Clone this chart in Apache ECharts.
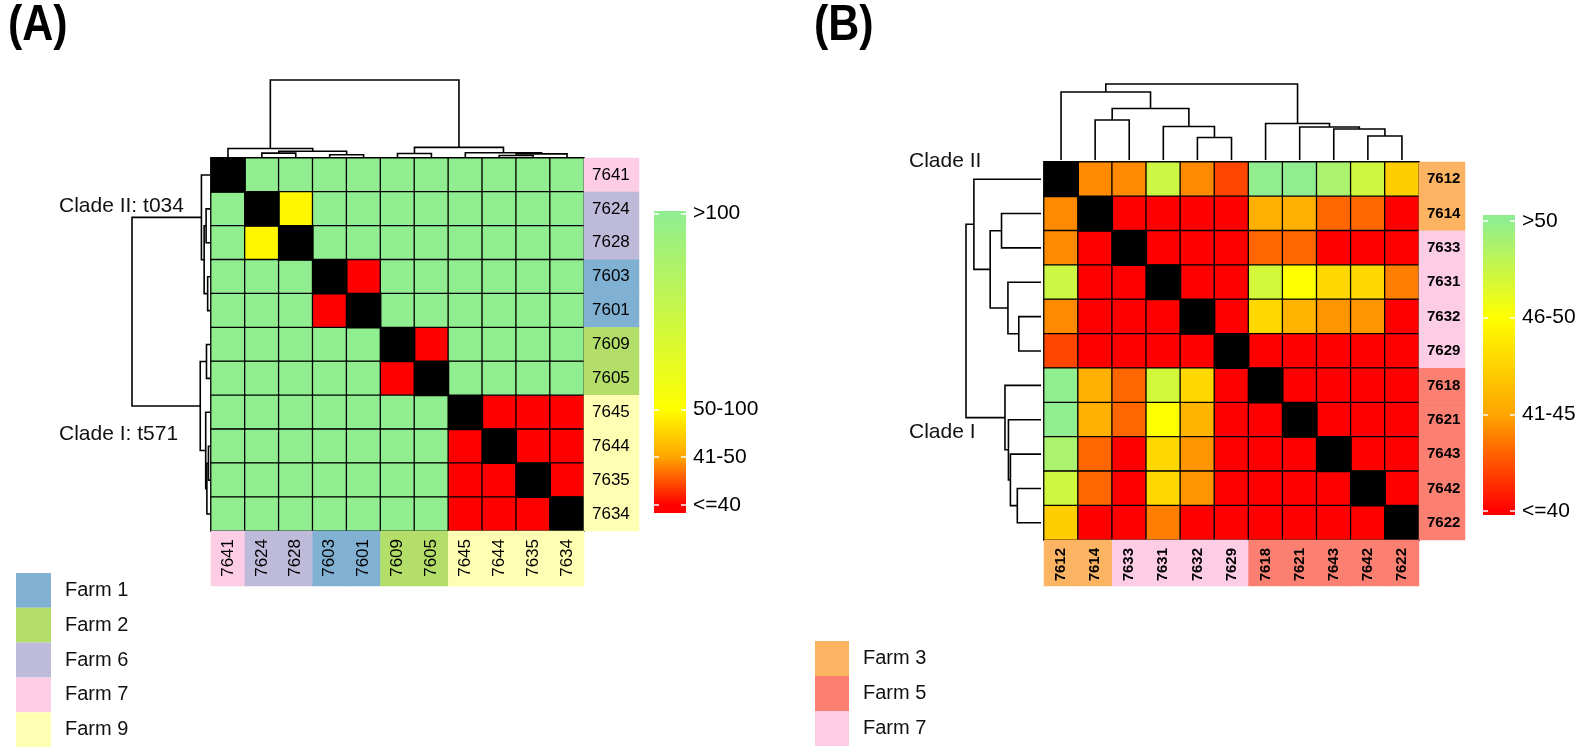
<!DOCTYPE html>
<html><head><meta charset="utf-8">
<script src="https://cdn.jsdelivr.net/npm/echarts@6/dist/echarts.min.js"></script>
<style>html,body{margin:0;padding:0;background:#fff}#c{width:1595px;height:750px}</style>
</head><body><div id="c"></div>
<script>
// ================= DATA =================
// Panel A (order as displayed, rows top->bottom == columns left->right)
const idsA = ['7641','7624','7628','7603','7601','7609','7605','7645','7644','7635','7634'];
const farmsA = ['Farm 7','Farm 6','Farm 6','Farm 1','Farm 1','Farm 2','Farm 2','Farm 9','Farm 9','Farm 9','Farm 9'];
const matA = [
  [  0,120,120,120,120,120,120,120,120,120,120],
  [120,  0, 59,120,120,120,120,120,120,120,120],
  [120, 59,  0,120,120,120,120,120,120,120,120],
  [120,120,120,  0, 35,120,120,120,120,120,120],
  [120,120,120, 35,  0,120,120,120,120,120,120],
  [120,120,120,120,120,  0, 35,120,120,120,120],
  [120,120,120,120,120, 35,  0,120,120,120,120],
  [120,120,120,120,120,120,120,  0, 35, 35, 35],
  [120,120,120,120,120,120,120, 35,  0, 35, 35],
  [120,120,120,120,120,120,120, 35, 35,  0, 35],
  [120,120,120,120,120,120,120, 35, 35, 35,  0]
];
// hclust-style merges: negative = leaf (display position), positive = earlier merge (1-based), height
const linkA = [
  [-2,-3,0.5],[-4,-5,0.3],[1,2,0.75],[-1,3,1.1],[-6,-7,0.45],
  [-9,-10,0.2],[6,-11,0.4],[-8,7,0.55],[5,8,1.25],[4,9,10]
];
const dendroMaxA = 10;
const legendTicksA = [40, 50, 60, 101];
const legendLabelsA = ['<=40', '41-50', '50-100', '>100'];
const legendRangeA = [38.3, 101.5];
const farmLegendA = ['Farm 1','Farm 2','Farm 6','Farm 7','Farm 9'];

// Panel B
const idsB = ['7612','7614','7633','7631','7632','7629','7618','7621','7643','7642','7622'];
const farmsB = ['Farm 3','Farm 3','Farm 7','Farm 7','Farm 7','Farm 7','Farm 5','Farm 5','Farm 5','Farm 5','Farm 5'];
const matB = [
  [   0,44.2,44.2,52.3,44.2,42.1,55.2,55.2,53.8,52.2,47.2],
  [44.2,   0,  38,  38,  38,  38,45.6,45.6,43.1,43.1,  38],
  [44.2,  38,   0,  38,  38,  38,43.1,43.1,  38,  38,  38],
  [52.3,  38,  38,   0,  38,  38,  52,  50,47.8,47.8,43.8],
  [44.2,  38,  38,  38,   0,  38,47.8,45.8,44.5,44.5,  38],
  [42.1,  38,  38,  38,  38,   0,  38,  38,  38,  38,  38],
  [55.2,45.6,43.1,  52,47.8,  38,   0,  38,  38,  38,  38],
  [55.2,45.6,43.1,  50,45.8,  38,  38,   0,  38,  38,  38],
  [53.8,43.1,  38,47.8,44.5,  38,  38,  38,   0,  38,  38],
  [52.2,43.1,  38,47.8,44.5,  38,  38,  38,  38,   0,  38],
  [47.2,  38,  38,43.8,  38,  38,  38,  38,  38,  38,   0]
];
const linkB = [
  [-2,-3,40],[-5,-6,22.5],[-4,2,33.5],[1,3,51.5],[-1,4,68],
  [-10,-11,24],[-9,6,31],[-8,7,33],[-7,8,36.5],[5,9,76]
];
const dendroMaxB = 76;
const legendTicksB = [40, 45, 50, 55];
const legendLabelsB = ['<=40', '41-45', '46-50', '>50'];
const legendRangeB = [39.8, 55.3];
const farmLegendB = ['Farm 3','Farm 5','Farm 7'];

// ================= STYLE =================
const FONT = "'Liberation Sans', Arial, Helvetica, sans-serif";
const farmColors = {'Farm 1':'#80B1D3','Farm 2':'#B3DE69','Farm 3':'#FDB462','Farm 5':'#FB8072',
                    'Farm 6':'#BEBADA','Farm 7':'#FCCDE5','Farm 9':'#FFFFB3'};
const paletteColors = ['#FF0000','#FFA500','#FFFF00','#90EE90']; // placed at legend ticks

function hex2rgb(h){h=h.replace('#','');return [parseInt(h.substr(0,2),16),parseInt(h.substr(2,2),16),parseInt(h.substr(4,2),16)];}
function makeColorAt(ticks){
  return function(v){
    if (v <= ticks[0]) return paletteColors[0];
    for (let k=1;k<ticks.length;k++){
      if (v <= ticks[k]){
        const t=(v-ticks[k-1])/(ticks[k]-ticks[k-1]);
        const a=hex2rgb(paletteColors[k-1]), b=hex2rgb(paletteColors[k]);
        return 'rgb('+a.map((x,i)=>Math.round(x+(b[i]-x)*t)).join(',')+')';
      }
    }
    return paletteColors[paletteColors.length-1];
  };
}
function dendroSegments(link){
  const pos=[], hgt=[], segs=[];
  const get = k => k<0 ? [(-k)-1, 0] : [pos[k-1], hgt[k-1]];
  link.forEach(([a,b,h])=>{
    const [xa,ha]=get(a), [xb,hb]=get(b);
    segs.push([xa,ha,xb,hb,h]); pos.push((xa+xb)/2); hgt.push(h);
  });
  return segs;
}

const grids=[], xAxes=[], yAxes=[], series=[], visualMaps=[];
function addGrid(l,t,w,h){grids.push({left:l,top:t,width:w,height:h,containLabel:false,outerBoundsMode:'none'});return grids.length-1;}
function addX(o){xAxes.push(o);return xAxes.length-1;}
function addY(o){yAxes.push(o);return yAxes.length-1;}
const hidden = {show:false};

function buildPanel(P){
  const n = P.ids.length;
  const colorAt = makeColorAt(P.ticks);
  // main heatmap
  const g = addGrid(...P.heat);
  const hx = addX({gridIndex:g,type:'category',data:P.ids,position:'bottom',z:10,
    axisLine:hidden,axisTick:hidden,splitLine:hidden,
    axisLabel:{interval:0,rotate:90,margin:P.labMargin,fontSize:P.labSize,color:'#000',fontFamily:FONT,fontWeight:P.labWeight}});
  const hy = addY({gridIndex:g,type:'category',data:P.ids,inverse:true,position:'right',z:10,
    axisLine:hidden,axisTick:hidden,splitLine:hidden,
    axisLabel:{interval:0,margin:P.labMargin,fontSize:P.labSize,color:'#000',fontFamily:FONT,fontWeight:P.labWeight}});
  const off=[], diag=[];
  P.mat.forEach((row,i)=>row.forEach((v,j)=>{(i===j?diag:off).push([j,i,v]);}));
  series.push({type:'heatmap',xAxisIndex:hx,yAxisIndex:hy,data:off,
    itemStyle:{borderColor:'#000',borderWidth:1.3},emphasis:{disabled:true},silent:true});
  const mainIdx = series.length-1;
  series.push({type:'heatmap',xAxisIndex:hx,yAxisIndex:hy,data:diag,
    itemStyle:{color:'#000',borderColor:'#000',borderWidth:1.3},emphasis:{disabled:true},silent:true});
  const N=240, samples=[];
  for(let k=0;k<=N;k++) samples.push(colorAt(P.vm[0]+(P.vm[1]-P.vm[0])*k/N));
  visualMaps.push({type:'continuous',show:false,seriesIndex:mainIdx,min:P.vm[0],max:P.vm[1],inRange:{color:samples}});

  // annotation strips
  const gr = addGrid(...P.rowStrip);
  const rx = addX({gridIndex:gr,type:'category',data:['s'],show:false});
  const ry = addY({gridIndex:gr,type:'category',data:P.ids,inverse:true,show:false});
  const gc = addGrid(...P.colStrip);
  const cx = addX({gridIndex:gc,type:'category',data:P.ids,show:false});
  const cy = addY({gridIndex:gc,type:'category',data:['s'],show:false});
  [...new Set(P.farms)].forEach(f=>{
    const idx = P.ids.map((_,i)=>i).filter(i=>P.farms[i]===f);
    series.push({type:'heatmap',name:f,xAxisIndex:rx,yAxisIndex:ry,data:idx.map(i=>[0,i,1]),
      itemStyle:{color:farmColors[f],borderWidth:0},emphasis:{disabled:true},silent:true});
    series.push({type:'heatmap',name:f,xAxisIndex:cx,yAxisIndex:cy,data:idx.map(i=>[i,0,1]),
      itemStyle:{color:farmColors[f],borderWidth:0},emphasis:{disabled:true},silent:true});
  });

  // dendrograms
  const segs = dendroSegments(P.link);
  const render = top => (params, api) => {
    const xa=api.value(0), ha=api.value(1), xb=api.value(2), hb=api.value(3), h=api.value(4);
    const C = top ? (p,hh)=>api.coord([p,hh]) : (p,hh)=>api.coord([hh,p]);
    return {type:'polyline',shape:{points:[C(xa,ha),C(xa,h),C(xb,h),C(xb,hb)]},
            style:{stroke:'#000',lineWidth:1.6,fill:'none'}};
  };
  const gt = addGrid(...P.topDendro);
  const tx = addX({gridIndex:gt,type:'value',min:-0.5,max:n-0.5,show:false});
  const ty = addY({gridIndex:gt,type:'value',min:0,max:P.dmax,show:false});
  series.push({type:'custom',xAxisIndex:tx,yAxisIndex:ty,data:segs,renderItem:render(true),silent:true});
  const gl = addGrid(...P.leftDendro);
  const lx = addX({gridIndex:gl,type:'value',min:0,max:P.dmax,inverse:true,show:false});
  const ly = addY({gridIndex:gl,type:'value',min:-0.5,max:n-0.5,inverse:true,show:false});
  series.push({type:'custom',xAxisIndex:lx,yAxisIndex:ly,data:segs,renderItem:render(false),silent:true});

  // colour key
  const gk = addGrid(...P.key);
  const kx = addX({gridIndex:gk,type:'value',min:0,max:1,show:false});
  const tickStyle = {show:true,inside:true,length:5,customValues:P.ticks,lineStyle:{color:'#fff',width:1.5}};
  const ky = addY({gridIndex:gk,type:'value',position:'left',min:P.range[0],max:P.range[1],z:10,
    axisLine:hidden,splitLine:hidden,axisLabel:{show:false},axisTick:tickStyle});
  addY({gridIndex:gk,type:'value',position:'right',min:P.range[0],max:P.range[1],z:10,
    axisLine:hidden,splitLine:hidden,axisTick:tickStyle,
    axisLabel:{show:true,customValues:P.ticks,margin:7,fontSize:21,color:'#000',fontFamily:FONT,
      formatter:v=>P.tickLabels[P.ticks.indexOf(v)]}});
  const lo=P.range[0], hi=P.range[1];
  const stops=[{offset:0,color:colorAt(hi)}];
  P.ticks.slice().reverse().forEach(t=>{ if(t>lo && t<hi) stops.push({offset:(hi-t)/(hi-lo),color:colorAt(t)}); });
  stops.push({offset:1,color:colorAt(lo)});
  series.push({type:'custom',xAxisIndex:kx,yAxisIndex:ky,data:[[lo,hi]],silent:true,
    renderItem:(params,api)=>{
      const a=api.coord([0,api.value(1)]), b=api.coord([1,api.value(0)]);
      return {type:'rect',shape:{x:a[0],y:a[1],width:b[0]-a[0],height:b[1]-a[1]},
              style:{fill:new echarts.graphic.LinearGradient(0,0,0,1,stops)}};
    }});
}

buildPanel({ids:idsA,farms:farmsA,mat:matA,link:linkA,dmax:dendroMaxA,ticks:legendTicksA,
  tickLabels:legendLabelsA,range:legendRangeA,vm:[0,130],labSize:17,labMargin:8,labWeight:'normal',
  heat:[211,158,373,373],rowStrip:[584,158,55,373],colStrip:[211,531,373,55],
  topDendro:[211,80,373,77],leftDendro:[132,158,78,373],key:[654,211,32,302]});
buildPanel({ids:idsB,farms:farmsB,mat:matB,link:linkB,dmax:dendroMaxB,ticks:legendTicksB,
  tickLabels:legendLabelsB,range:legendRangeB,vm:[30,60],labSize:15,labMargin:8,labWeight:'bold',
  heat:[1044,162,375,378],rowStrip:[1419,162,46,378],colStrip:[1044,540,375,46],
  topDendro:[1044,84,375,76],leftDendro:[966,162,75,378],key:[1483,215,32,300]});

const txt = (s,extra)=>Object.assign({text:s,padding:0,textStyle:{fontSize:21,fontWeight:'normal',color:'#111',fontFamily:FONT}},extra);
const panelTag = (s,x)=>({type:'text',x:x,y:1,scaleX:0.86,silent:true,
  style:{text:s,fontSize:50,fontWeight:'bold',fontFamily:FONT,fill:'#000',verticalAlign:'top',align:'left'}});
const option = {
  animation:false,
  backgroundColor:'#fff',
  title:[
    txt('Clade II: t034',{left:59,top:196}),
    txt('Clade I: t571',{left:59,top:424}),
    txt('Clade II',{left:909,top:151}),
    txt('Clade I',{left:909,top:422})
  ],
  graphic:[panelTag('(A)',8), panelTag('(B)',814)],
  legend:[
    {data:farmLegendA,orient:'vertical',left:16,top:573,itemWidth:35,itemHeight:34.8,itemGap:0,icon:'rect',
     padding:0,selectedMode:false,textStyle:{fontSize:20,color:'#111',fontFamily:FONT,padding:[0,0,0,9]}},
    {data:farmLegendB,orient:'vertical',left:815,top:641,itemWidth:34,itemHeight:35,itemGap:0,icon:'rect',
     padding:0,selectedMode:false,textStyle:{fontSize:20,color:'#111',fontFamily:FONT,padding:[0,0,0,9]}}
  ],
  grid:grids, xAxis:xAxes, yAxis:yAxes, visualMap:visualMaps, series:series
};
const chart = echarts.init(document.getElementById('c'),null,{renderer:'canvas'});
chart.setOption(option);
</script></body></html>
